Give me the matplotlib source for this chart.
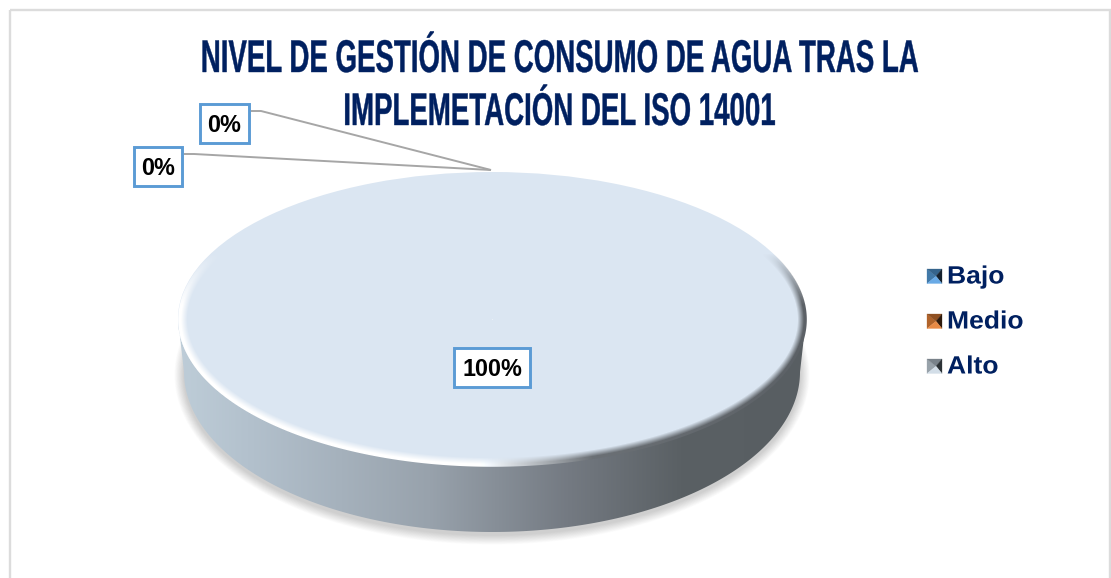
import numpy as np
import matplotlib
matplotlib.use('Agg')
import matplotlib.pyplot as plt
from matplotlib.patches import Rectangle, Polygon, Ellipse
from matplotlib.patheffects import AbstractPathEffect
from matplotlib.transforms import Affine2D

# chart data
categories = ['Bajo', 'Medio', 'Alto']
values = [0, 0, 100]
slice_colors = ['#5b9bd5', '#ed7d31', '#dbe6f2']
title_lines = ['NIVEL DE GESTIÓN DE CONSUMO DE AGUA TRAS LA', 'IMPLEMETACIÓN DEL ISO 14001']
# marker shades: left, top, right, bottom
marker_shades = [
    ['#4179a8', '#35648c', '#16222e', '#69aae6'],
    ['#b0632a', '#8f5021', '#2e1a0c', '#e88a45'],
    ['#98a2aa', '#79828a', '#2c3236', '#d3dee8'],
]

W, H = 1111, 578
NAVY = '#002060'
BLUE = '#5b9bd5'

# pie geometry in pixels: top ellipse, then the smaller bottom ellipse
CX, CY, RX, RY = 492, 319, 314, 147
LOW_Y, LOW_RX, LOW_RY = 372, 308, 160


class StretchText(AbstractPathEffect):
    # condensed fonts: rescale the glyphs around one anchor point (display pixels)
    def __init__(self, sx, sy, cx, cy, stroke=0.0):
        self.sx, self.sy, self.cx, self.cy, self.stroke = sx, sy, cx, cy, stroke

    def draw_path(self, renderer, gc, tpath, affine, rgbFace=None):
        aff = affine + Affine2D().translate(-self.cx, -self.cy).scale(self.sx, self.sy).translate(self.cx, self.cy)
        gc0 = renderer.new_gc()
        gc0.copy_properties(gc)
        gc0.set_linewidth(self.stroke)
        gc0.set_foreground(rgbFace)
        renderer.draw_path(gc0, tpath, aff, rgbFace)
        gc0.restore()


fig = plt.figure(figsize=(W / 100, H / 100), dpi=100)
ax = fig.add_axes([0, 0, 1, 1])
ax.set_xlim(0, W)
ax.set_ylim(H, 0)
ax.axis('off')

# outer frame
ax.add_patch(Rectangle((9.5, 10), 1100, 600, fill=False, ec='#dcdcdc', lw=1.7))

# soft shadow under the disc
for k in range(16):
    grow = 1.2 * (16 - k)
    ax.add_patch(Ellipse((CX, LOW_Y + 3), 2 * LOW_RX + grow, 2 * LOW_RY + grow, fc='k', ec='none', alpha=0.01, zorder=2))

# side wall, left to right gradient
yy, xx = np.mgrid[0:H, 0:W]
t = np.clip((xx - (CX - RX)) / (2 * RX), 0, 1)
stops_t = [0, 0.12, 0.4, 0.62, 0.8, 1]
stops_c = np.array([[190, 205, 216], [178, 192, 204], [152, 162, 172], [116, 122, 130], [90, 96, 100], [88, 94, 98]]) / 255
wall = np.dstack([np.interp(t, stops_t, stops_c[:, i]) for i in range(3)])
im = ax.imshow(wall, extent=(0, W, H, 0), zorder=3, aspect='auto', interpolation='bilinear')
ang = np.linspace(0, np.pi, 200)
wall_xy = np.r_[np.c_[CX + LOW_RX * np.cos(ang), LOW_Y + LOW_RY * np.sin(ang)],
                np.c_[CX + RX * np.cos(ang[::-1]), CY + RY * np.sin(ang[::-1])]]
clip = Polygon(wall_xy, closed=True, transform=ax.transData, fc='none', ec='none')
ax.add_patch(clip)
im.set_clip_path(clip)

# top face of the pie, one axes stretched over the ellipse
pie_ax = fig.add_axes([(CX - RX) / W, 1 - (CY + RY) / H, 2 * RX / W, 2 * RY / H], zorder=2)
pie_ax.pie(values, colors=slice_colors, radius=1, startangle=90, counterclock=True)
pie_ax.set_aspect('auto')
pie_ax.set_xlim(-1, 1)
pie_ax.set_ylim(-1, 1)
pie_ax.patch.set_alpha(0)

# bevel along the rim, white on the left, dark on the right
front_ax = fig.add_axes([0, 0, 1, 1], zorder=3)
front_ax.set_xlim(0, W)
front_ax.set_ylim(H, 0)
front_ax.axis('off')
dx, dy = (xx - CX) / RX, (yy - CY) / RY
rr = np.sqrt(dx ** 2 + dy ** 2)
# rough distance to the rim in pixels
dist = (1 - rr) * rr / (np.sqrt((dx / RX) ** 2 + (dy / RY) ** 2) + 1e-6)
band = np.clip((9 - dist) / 6.5, 0, 1) * np.clip((dist + 0.8) / 1.0, 0, 1)
lower = np.clip((dy + 0.45) / 0.35, 0, 1)
side = np.clip((dx + 1) / 2, 0, 1)
shade = np.interp(side, [0, 0.48, 0.66, 1], [1, 1, 0.42, 0.36])
bevel = np.zeros((H, W, 4))
bevel[..., 0] = shade
bevel[..., 1] = shade + 0.02 * (shade < 1)
bevel[..., 2] = shade + 0.04 * (shade < 1)
bevel = np.clip(bevel, 0, 1)
bevel[..., 3] = band * lower
front_ax.imshow(bevel, extent=(0, W, H, 0), aspect='auto', interpolation='bilinear')

# title
title_cx = W / 2 + 3.5
for line, base in zip(title_lines, [72, 125]):
    txt = front_ax.text(title_cx, base, line, fontsize=22, fontweight='bold', family='Liberation Sans',
                        color=NAVY, ha='center', va='baseline')
    txt.set_path_effects([StretchText(0.905, 1.5, title_cx, H - base, 0.3)])

# leader lines from the thin slices
front_ax.plot([251, 261, 491], [111, 111, 170], color='#a6a6a6', lw=1.4, solid_capstyle='butt')
front_ax.plot([184, 194, 491], [154, 154, 170], color='#a6a6a6', lw=1.4, solid_capstyle='butt')

# data labels
label_boxes = [(134, 147, 48, 39), (200, 104, 49, 39), (454, 348, 76, 39)]
for val, (x0, y0, w, h) in zip(values, label_boxes):
    front_ax.add_patch(Rectangle((x0, y0), w, h, fc='white', ec=BLUE, lw=2.1))
    front_ax.text(x0 + w / 2, y0 + h / 2 + 2, f'{val}%', fontsize=16.8, fontweight='bold',
                  family='Liberation Sans', color='black', ha='center', va='center')

# legend with the little pyramid markers
for name, shades, my in zip(categories, marker_shades, [269, 314, 359]):
    x0, x1, y0, y1 = 927, 942, my, my + 14.5
    xm, ym = 936, (y0 + y1) / 2
    tris = [[(x0, y0), (xm, ym), (x0, y1)], [(x0, y0), (x1, y0), (xm, ym)],
            [(x1, y0), (x1, y1), (xm, ym)], [(x0, y1), (xm, ym), (x1, y1)]]
    for tri, c in zip(tris, shades):
        front_ax.add_patch(Polygon(tri, closed=True, fc=c, ec=c, lw=0.2))
    leg = front_ax.text(947, y1, name, fontsize=18, fontweight='bold', family='Liberation Sans',
                        color=NAVY, ha='left', va='baseline')
    leg.set_path_effects([StretchText(1.06, 1.0, 947, H - y1)])

fig.savefig('out.png', dpi=100)
